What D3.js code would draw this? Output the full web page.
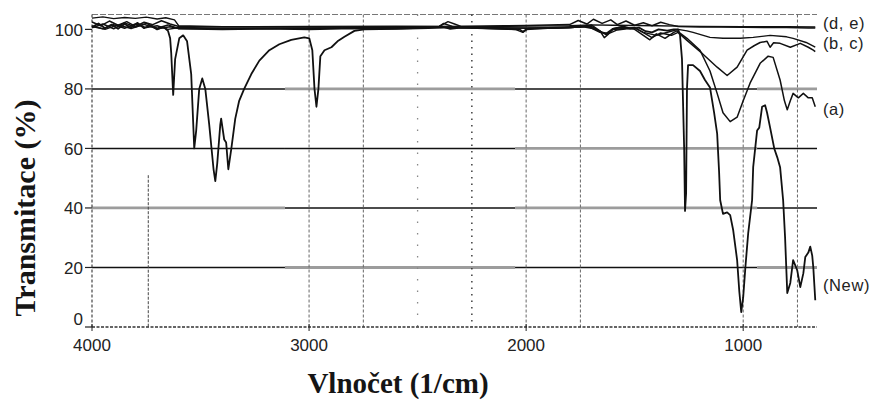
<!DOCTYPE html>
<html><head><meta charset="utf-8">
<script src="https://cdn.jsdelivr.net/npm/d3@7"></script>
<style>body{margin:0;background:#fff}</style>
</head><body><svg id="c" width="877" height="401"></svg>
<script>
// ---- data ----
const yTicks=[0,20,40,60,80,100];
const xTicks=[4000,3000,2000,1000];
const gridXDashed=[3000,2750,2000,1750,1000,750];
const gridXDotted=[2500,2250];

const newWn=[4000,3970,3940,3910,3880,3850,3820,3790,3760,3730,3700,3670,3650,3640,3635,3626,3617,3598,3580,3562,3543,3529,3520,3506,3492,3478,3460,3440,3432,3423,3409,3405,3391,3382,3372,3358,3340,3322,3299,3266,3229,3183,3137,3082,3022,2999,2985,2975,2966,2957,2948,2929,2897,2869,2837,2791,2745,2600,2450,2380,2350,2300,2150,2030,2015,2000,1900,1800,1720,1680,1650,1630,1600,1560,1520,1480,1450,1420,1390,1350,1320,1300,1291,1282,1272,1268,1263,1259,1254,1231,1199,1176,1153,1134,1120,1111,1106,1093,1074,1060,1046,1028,1018,1009,1000,990,977,959,954,936,926,913,899,890,876,857,843,830,816,807,797,783,770,751,737,723,714,700,691,682,677,668];
const newT=[100.8,102,100.4,101.6,100.2,101.8,100.6,102.2,100.4,101.4,100,100.8,99.5,97,92,78,90,97,98,96,85,60,66,80,83.5,80,68,53,49,55,68,70,63,62,53,60,70,76,80,85,89.5,93,95,96.5,97.3,97,93,80,74,80,91,93,94,96,97.5,99.5,100,100.2,100.4,100.8,100.2,100.6,100.3,100,99.2,100,100.4,100.6,101.2,100,99,98.6,100.2,100.8,100.2,100.6,99.4,99,100,99.6,100,100,98,90,60,39,45,80,88,88,86,83,80.5,72,65,52,42.6,38,38.5,37.6,32.5,22.5,12,5,10,20,31.5,42.6,53.7,66,67,74,74.5,72,67,60,57,53.7,42.6,30,11.4,14.8,22.5,19,13.4,18,23.5,25,27,24,20,9];

const aWn=[4000,3950,3900,3850,3800,3750,3700,3650,3600,3400,3200,3000,2800,2600,2400,2200,2050,2015,1990,1850,1750,1700,1660,1640,1620,1600,1550,1500,1460,1430,1400,1360,1320,1305,1259,1199,1153,1120,1093,1060,1028,1000,968,922,885,862,830,810,797,783,770,746,723,700,682,668];
const aT=[100.5,101.8,100.2,102.2,100.8,102,100.4,101.5,100.2,100,100.2,100,100.3,100.2,100.6,100.4,100,99,100.3,100.5,100.8,101.5,99.5,97.2,98.5,100.2,101,100,98,96.5,98.5,97,99,99.5,97,93,86,78.5,72,69,70.5,76,82,88.6,91,90.6,83,76,73,76,78.5,77,78.5,77,77,74];

const bWn=[4000,3950,3900,3850,3800,3750,3700,3650,3600,3400,3000,2600,2400,2380,2340,2200,2000,1800,1700,1650,1630,1600,1500,1450,1420,1380,1330,1300,1259,1190,1120,1074,1028,982,950,922,890,876,860,830,783,737,700,677,668];
const bT=[101,100.2,101.6,100.4,101.8,100.6,101.2,100,100.6,100.4,100.5,100.6,101,102,101,100.6,100.4,100.6,101,99,98.2,100,100.6,98.5,97.2,98.8,98,99,96.3,92,87.3,84.5,87.3,93,94.5,95.6,96,94,95.5,95.3,94,95.3,94,93,92.5];

const cWn=[4000,3940,3880,3820,3760,3700,3640,3600,3300,3000,2700,2400,2100,1900,1750,1700,1660,1620,1580,1500,1460,1400,1340,1300,1259,1231,1153,1093,1014,954,876,800,770,710,668];
const cT=[101.2,100,101.5,100.3,101.7,100.2,100.9,100.3,100.2,100.3,100.5,100.7,100.5,100.6,101,100.4,99,98.6,99.8,100.5,99,98,99.2,100,99.5,99,97.3,97,97,97.3,98,97.5,97,95.6,94];

const dWn=[4000,3960,3920,3880,3840,3800,3760,3720,3680,3640,3600,3500,3300,3000,2700,2400,2360,2330,2300,2100,2000,1800,1760,1720,1690,1650,1610,1580,1540,1500,1460,1420,1380,1340,1300,1200,1100,1000,900,800,700,668];
const dT=[102.5,101.2,102.8,101.4,102.6,101,102.4,101.6,102.9,101.8,101,100.9,100.9,100.8,100.9,101,102.6,101.8,101,101.2,101.3,101.6,103,101.8,103.4,102,103.2,101.6,102.8,101.4,102.2,101.2,102.4,101.6,101,100.8,100.8,100.7,100.6,100.6,100.5,100.5];

const eWn=[4000,3950,3900,3850,3800,3750,3700,3660,3620,3600,3400,3000,2600,2200,2000,1800,1700,1600,1500,1400,1300,1200,1000,800,668];
const eT=[103.8,104.2,103.6,104,103.7,104.1,103.5,103.9,103.2,101.2,100.9,101,101.1,101,101.1,101.2,101.5,101.4,101.3,101.2,101.1,101,100.9,100.9,100.8];

const seriesLabels=["(d, e)","(b, c)","(a)","(New)"];
const seriesLabelT=[102,95.5,73.3,14];

// ---- chart ----
const svg=d3.select("#c");
const x=d3.scaleLinear().domain([4000,660]).range([92,817]);
const y=d3.scaleLinear().domain([0,105]).range([327,14.5]);

// horizontal grid lines with alternating black / grey segments
const segBreaks=[4000,3111,2051,936,660];
const segPattern={80:"kgkg",60:"kkgk",40:"gkgk",20:"kgkg"};
Object.keys(segPattern).forEach(v=>{
  const p=segPattern[v];
  for(let i=0;i<4;i++){
    const g=p[i]==="g";
    svg.append("line").attr("x1",x(segBreaks[i])).attr("x2",x(segBreaks[i+1]))
      .attr("y1",y(+v)).attr("y2",y(+v))
      .attr("stroke",g?"#9c9c9c":"#111").attr("stroke-width",g?2.8:1.5);
  }
});
// top dotted border
svg.append("line").attr("x1",x(4000)).attr("x2",x(660)).attr("y1",y(105)).attr("y2",y(105))
  .attr("stroke","#777").attr("stroke-width",1).attr("stroke-dasharray","6,2");

// vertical grid lines
gridXDashed.forEach(v=>{
  svg.append("line").attr("x1",x(v)).attr("x2",x(v)).attr("y1",y(105)).attr("y2",y(0))
    .attr("stroke","#666").attr("stroke-width",1).attr("stroke-dasharray","3,2");
});
gridXDotted.forEach((v,i)=>{
  svg.append("line").attr("x1",x(v)).attr("x2",x(v)).attr("y1",y(105)).attr("y2",y(0))
    .attr("stroke",i?"#222":"#888").attr("stroke-width",1.3).attr("stroke-dasharray",i?"1.5,5":"1.5,10");
});
svg.append("line").attr("x1",x(3750)+2).attr("x2",x(3750)+2).attr("y1",y(51)).attr("y2",y(0))
  .attr("stroke","#444").attr("stroke-width",1).attr("stroke-dasharray","3,1.5");

// axes lines
svg.append("line").attr("x1",x(4000)).attr("x2",x(4000)).attr("y1",y(105)).attr("y2",y(0))
  .attr("stroke","#444").attr("stroke-width",1.2).attr("stroke-dasharray","3,2");
svg.append("line").attr("x1",x(4000)).attr("x2",x(660)).attr("y1",y(0)).attr("y2",y(0))
  .attr("stroke","#333").attr("stroke-width",1.6).attr("stroke-dasharray","3,1.5");

// ticks
const tf="'Liberation Sans', Arial, sans-serif";
yTicks.forEach(v=>{
  svg.append("line").attr("x1",85).attr("x2",x(4000)).attr("y1",y(v)).attr("y2",y(v))
    .attr("stroke","#222").attr("stroke-width",1.2);
  svg.append("text").attr("x",83).attr("y",y(v)-(v===0?8:0)).attr("dy","0.36em").attr("text-anchor","end")
    .attr("font-family",tf).attr("font-size",17).attr("fill","#222").text(v);
});
xTicks.forEach(v=>{
  svg.append("line").attr("x1",x(v)).attr("x2",x(v)).attr("y1",y(0)-3).attr("y2",y(0)+4)
    .attr("stroke","#222").attr("stroke-width",1);
  svg.append("text").attr("x",x(v)).attr("y",351).attr("text-anchor","middle")
    .attr("font-family",tf).attr("font-size",17).attr("fill","#222").text(v);
});

// curves
const line=d3.line().x(d=>x(d[0])).y(d=>y(d[1]));
const zip=(a,b)=>a.map((v,i)=>[v,b[i]]);
[[eWn,eT,1.4],[dWn,dT,1.5],[cWn,cT,1.4],[bWn,bT,1.5],[aWn,aT,1.5],[newWn,newT,1.8]].forEach(s=>{
  svg.append("path").attr("d",line(zip(s[0],s[1]))).attr("fill","none")
    .attr("stroke","#111").attr("stroke-width",s[2]).attr("stroke-linejoin","round");
});

// series labels
seriesLabels.forEach((t,i)=>{
  svg.append("text").attr("x",823).attr("y",y(seriesLabelT[i])).attr("dy","0.36em")
    .attr("font-family",tf).attr("font-size",16.5).attr("letter-spacing","0.6").attr("fill","#222").text(t);
});

// titles
svg.append("text").attr("transform","translate(35,208) rotate(-90)").attr("text-anchor","middle")
  .attr("font-family","'Liberation Serif','Times New Roman',serif").attr("font-weight","bold")
  .attr("font-size",30).attr("fill","#151515").text("Transmitace (%)");
svg.append("text").attr("x",398).attr("y",393).attr("text-anchor","middle")
  .attr("font-family","'Liberation Serif','Times New Roman',serif").attr("font-weight","bold")
  .attr("font-size",29).attr("fill","#151515").text("Vlnočet (1/cm)");
</script></body></html>
